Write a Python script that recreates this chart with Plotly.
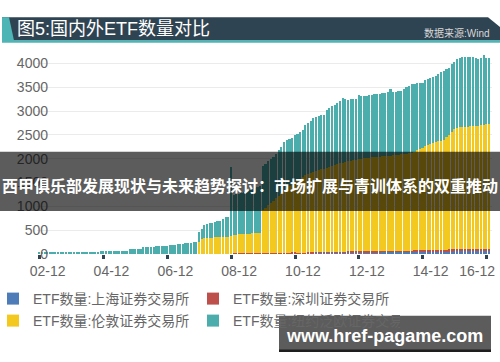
import plotly.graph_objects as go
import pandas as pd

# ---------------- data (monthly, 2002-12 .. 2017-01) ----------------
months = pd.date_range("2002-12-01", periods=170, freq="MS")

series_names = [
    "ETF数量:上海证券交易所",
    "ETF数量:深圳证券交易所",
    "ETF数量:伦敦证券交易所",
    "ETF数量:纽约泛欧证券交易所集团(美国)",
]

shanghai = (
    [0]
    + [0] * 12
    + [0] * 12
    + [0, 1, 1, 1, 1, 1, 1, 1, 1, 1, 1, 1]
    + [1, 1, 1, 2, 2, 2, 3, 3, 3, 4, 4, 5]
    + [5, 5, 5, 5, 5, 5, 5, 5, 5, 5, 5, 5]
    + [6, 6, 6, 6, 6, 6, 6, 6, 6, 6, 6, 6]
    + [8, 8, 8, 9, 9, 9, 10, 10, 10, 11, 11, 12]
    + [8, 9, 10, 10, 11, 12, 12, 13, 14, 14, 15, 16]
    + [16, 17, 18, 18, 19, 20, 20, 21, 21, 22, 23, 23]
    + [25, 26, 27, 29, 30, 31, 33, 34, 35, 36, 36, 37]
    + [38, 38, 39, 40, 40, 40, 41, 41, 42, 42, 42, 42]
    + [43, 44, 44, 45, 45, 46, 47, 47, 48, 49, 49, 50]
    + [52, 53, 55, 56, 57, 58, 60, 60, 61, 62, 62, 63]
    + [64, 64, 65, 65, 66, 66, 66, 66, 67, 67, 68, 68]
    + [68]
)

shenzhen = (
    [0]
    + [0] * 12
    + [0] * 12
    + [0] * 12
    + [0, 0, 1, 1, 1, 1, 1, 1, 1, 2, 2, 2]
    + [2, 2, 2, 2, 2, 2, 2, 2, 2, 2, 2, 2]
    + [3, 3, 3, 3, 3, 3, 3, 3, 3, 3, 3, 3]
    + [4, 4, 4, 5, 5, 5, 5, 6, 6, 6, 7, 8]
    + [9, 10, 11, 12, 12, 13, 14, 15, 15, 16, 17, 18]
    + [12, 12, 12, 13, 13, 13, 14, 14, 15, 15, 16, 16]
    + [17, 17, 18, 18, 19, 19, 19, 19, 20, 20, 20, 20]
    + [21, 21, 22, 22, 22, 22, 23, 23, 23, 23, 24, 24]
    + [25, 25, 25, 25, 26, 26, 26, 26, 27, 27, 28, 28]
    + [28, 29, 29, 30, 31, 31, 32, 32, 33, 34, 34, 35]
    + [35, 35, 35, 36, 36, 37, 37, 37, 37, 38, 38, 38]
    + [38]
)

london = (
    [0]
    + [0] * 12
    + [0] * 12
    + [0] * 12
    + [0] * 12
    + [0, 0, 0, 0, 0, 0, 0, 0, 0, 0, 0, 240]
    + [300, 320, 330, 330, 335, 340, 340, 345, 350, 350, 355, 360]
    + [390, 395, 400, 405, 410, 410, 415, 420, 425, 425, 430, 900]
    + [950, 1000, 1050, 1100, 1150, 1200, 1250, 1300, 1350, 1390, 1430, 1470]
    + [1510, 1550, 1590, 1620, 1640, 1660, 1680, 1700, 1720, 1740, 1750, 1770]
    + [1780, 1800, 1820, 1840, 1860, 1870, 1880, 1890, 1900, 1910, 1920, 1940]
    + [1945, 1950, 1955, 1960, 1965, 1970, 1975, 1980, 1985, 1990, 1995, 2000]
    + [2005, 2010, 2015, 2020, 2025, 2030, 2040, 2050, 2060, 2100, 2120, 2140]
    + [2180, 2200, 2220, 2240, 2260, 2280, 2290, 2310, 2360, 2410, 2470, 2520]
    + [2540, 2560, 2570, 2575, 2575, 2580, 2580, 2585, 2590, 2600, 2610, 2615]
    + [2620]
)

nyse = (
    [40]
    + [40, 41, 41, 42, 42, 43, 43, 44, 44, 45, 45, 46]
    + [46, 47, 47, 48, 48, 49, 49, 50, 50, 51, 60, 61]
    + [62, 61, 62, 63, 64, 65, 65, 66, 67, 99, 101, 103]
    + [105, 107, 143, 145, 147, 149, 151, 154, 156, 157, 164, 168]
    + [173, 181, 188, 196, 203, 211, 218, 225, 233, 241, 251, 223]
    + [211, 271, 301, 311, 316, 331, 341, 346, 381, 411, 411, 1461]
    + [828, 843, 858, 871, 886, 906, 920, 934, 949, 958, 972, 930]
    + [933, 931, 929, 918, 927, 955, 974, 1032, 1011, 1000, 968, 996]
    + [992, 991, 980, 1059, 1088, 1107, 1136, 1145, 1144, 1133, 1131, 1221]
    + [1238, 1257, 1265, 1283, 1311, 1350, 1318, 1297, 1295, 1284, 1284, 1333]
    + [1306, 1301, 1304, 1308, 1313, 1318, 1321, 1326, 1330, 1335, 1339, 1394]
    + [1337, 1321, 1336, 1340, 1364, 1398, 1417, 1437, 1445, 1414, 1393, 1382]
    + [1390, 1398, 1396, 1394, 1392, 1411, 1438, 1448, 1426, 1404, 1434, 1412]
    + [1461, 1461, 1470, 1464, 1453, 1447, 1457, 1432, 1406, 1405, 1454, 1389]
    + [1394]
)

x_tick_dates = ["2002-12-01", "2004-12-01", "2006-12-01", "2008-12-01",
                "2010-12-01", "2012-12-01", "2014-12-01", "2016-12-01"]
x_tick_labels = ["02-12", "04-12", "06-12", "08-12", "10-12", "12-12", "14-12", "16-12"]
y_ticks = [0, 500, 1000, 1500, 2000, 2500, 3000, 3500, 4000]

title_text = "图5:国内外ETF数量对比"
source_text = "数据来源:Wind"
banner_text = "西甲俱乐部发展现状与未来趋势探讨：市场扩展与青训体系的双重推动"
watermark_text = "www.href-pagame.com"

colors = ["#4e7cb8", "#bd504b", "#f3c91f", "#4cadad"]

# ---------------- figure ----------------
W, H = 500, 362
ML, MR, MT, MB = 37, 8, 54, 108
PW = W - ML - MR
PH = H - MT - MB


def px(x):
    return (x - ML) / PW


def py(y):
    return (H - MB - y) / PH


FONT = "Liberation Sans, Noto Sans CJK SC, sans-serif"

fig = go.Figure()
legend_ids = ["legend", "legend", "legend2", "legend2"]
for name, vals, col, lg in zip(series_names, [shanghai, shenzhen, london, nyse], colors, legend_ids):
    fig.add_trace(go.Bar(x=months, y=vals, name=name, legend=lg,
                         marker=dict(color=col, line=dict(width=0))))

legend_common = dict(
    orientation="h",
    xref="container",
    yref="container",
    x=0,
    xanchor="left",
    yanchor="top",
    entrywidth=162,
    indentation=-7,
    traceorder="normal",
    font=dict(family=FONT, size=14, color="#666666"),
    itemwidth=30,
    bgcolor="rgba(0,0,0,0)",
)

# last label pulled inward so it stays inside the figure, as in the original
tick_text = x_tick_labels[:-1] + [x_tick_labels[-1] + "\u00a0" * 9]

fig.update_layout(
    width=W,
    height=H,
    margin=dict(l=ML, r=MR, t=MT, b=MB, autoexpand=False),
    barmode="stack",
    bargap=0.3,
    paper_bgcolor="white",
    plot_bgcolor="white",
    font=dict(family=FONT, size=14, color="#666666"),
    showlegend=True,
    legend=dict(legend_common, y=1 - 283 / H),
    legend2=dict(legend_common, y=1 - 305 / H),
    xaxis=dict(
        type="date",
        range=["2002-11-01", "2017-02-01"],
        tickvals=x_tick_dates,
        ticktext=tick_text,
        ticks="outside",
        ticklen=4,
        tickwidth=3,
        tickcolor="#2f4452",
        ticklabelshift=8,
        ticklabeloverflow="allow",
        showgrid=False,
        showline=False,
        zeroline=False,
        automargin=False,
        tickfont=dict(size=14, color="#666666"),
    ),
    yaxis=dict(
        range=[0, 4200],
        tickvals=y_ticks,
        showgrid=True,
        gridcolor="#ebebeb",
        gridwidth=1,
        zeroline=False,
        showline=False,
        ticks="",
        automargin=False,
        ticklabelstandoff=-12,
        tickfont=dict(size=14, color="#666666"),
    ),
)

shapes = []
# title band
shapes.append(dict(type="path", xref="paper", yref="paper", layer="above",
                   path=f"M {px(2)},{py(17.3)} L {px(488)},{py(17.3)} L {px(500)},{py(27)} L {px(500)},{py(40.5)} L {px(2)},{py(40.5)} Z",
                   fillcolor="#2f4452", line=dict(width=0)))
shapes.append(dict(type="rect", xref="paper", yref="paper", layer="above",
                   x0=px(2), x1=px(500), y0=py(40.3), y1=py(42.8),
                   fillcolor="#4db5b5", line=dict(width=0)))
shapes.append(dict(type="path", xref="paper", yref="paper", layer="above",
                   path=f"M {px(2)},{py(17.3)} L {px(9)},{py(17.3)} L {px(14)},{py(40.5)} L {px(2)},{py(40.5)} Z",
                   fillcolor="#4db5b5", line=dict(width=0)))
# overlay banner
shapes.append(dict(type="rect", xref="paper", yref="paper", layer="above",
                   x0=px(0), x1=px(500), y0=py(151.7), y1=py(211),
                   fillcolor="rgba(0,0,0,0.64)", line=dict(width=0)))
# watermark box
shapes.append(dict(type="rect", xref="paper", yref="paper", layer="above",
                   x0=px(279), x1=px(491), y0=py(315.7), y1=py(350),
                   fillcolor="rgba(0,0,0,0.64)", line=dict(width=0)))
shapes.append(dict(type="rect", xref="paper", yref="paper", layer="above",
                   x0=px(279), x1=px(491), y0=py(349.5), y1=py(352),
                   fillcolor="#1e1e1e", line=dict(width=0)))
fig.update_layout(shapes=shapes)

annotations = [
    dict(text=title_text, x=px(15), y=py(29.5), xref="paper", yref="paper",
         xanchor="left", yanchor="middle", showarrow=False,
         font=dict(family=FONT, size=18, color="white")),
    dict(text=source_text, x=px(492), y=py(32.5), xref="paper", yref="paper",
         xanchor="right", yanchor="middle", showarrow=False,
         font=dict(family=FONT, size=10, color="#d8d8d8")),
    dict(text="<b>" + banner_text + "</b>", x=px(250), y=py(184.5), xref="paper", yref="paper",
         xanchor="center", yanchor="middle", showarrow=False,
         font=dict(family="Noto Sans CJK SC, sans-serif", size=16, color="white")),
    dict(text="<b>" + watermark_text + "</b>", x=px(384), y=py(335.5), xref="paper", yref="paper",
         xanchor="center", yanchor="middle", showarrow=False,
         font=dict(family="Liberation Sans, sans-serif", size=18, color="white")),
]
fig.update_layout(annotations=annotations)

fig.write_html(
    "out.html",
    config={"displayModeBar": False},
    post_script="document.body.style.margin='0';document.body.style.overflow='hidden';",
)
